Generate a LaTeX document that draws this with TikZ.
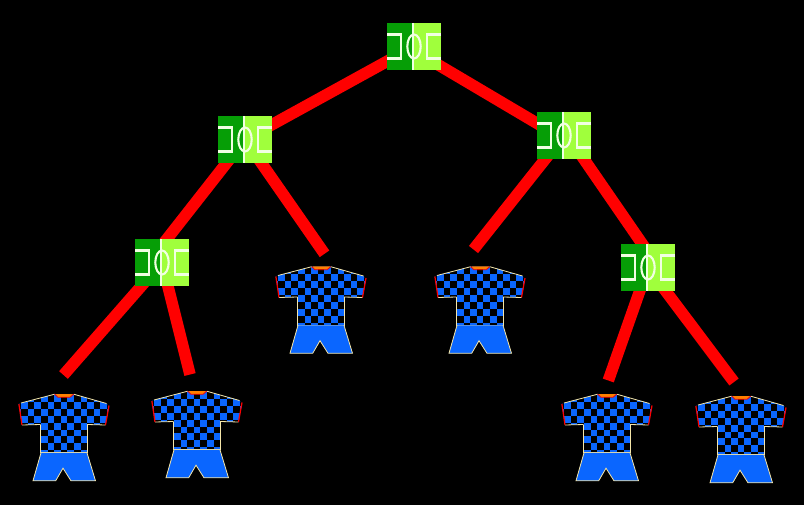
\documentclass[tikz,border=0pt]{standalone}
\definecolor{kitblue}{HTML}{0A66FF}
\definecolor{pitchdark}{HTML}{069E06}
\definecolor{pitchlight}{HTML}{A0FF3C}
\definecolor{trim}{HTML}{F5E6A8}
\tikzset{
  x=1pt,y=-1pt,
  edge/.style={red,line width=11.6pt},
  pitchbox/.style={rectangle,minimum width=54pt,minimum height=47pt,inner sep=0pt,outer sep=0pt,fill=pitchdark},
  kitbox/.style={rectangle,minimum width=90pt,minimum height=87pt,inner sep=0pt,outer sep=0pt},
  pitchline/.style={white!85!pitchlight,line width=2.1pt},
  kitline/.style={trim,line width=.8pt},
}
\newcommand{\pitchart}[1]{%
  \begin{scope}[shift={(#1.center)}]
    \fill[pitchlight] (-1,-23.5) rectangle (27,23.5);
    \draw[pitchline] (-1,-23.5) -- (-1,23.5);
    \draw[pitchline] (0,0) ellipse (6.7pt and 12pt);
    \draw[pitchline] (-27,-12) -- (-13.3,-12) -- (-13.3,12) -- (-27,12);
    \draw[pitchline] (27,-12) -- (13.3,-12) -- (13.3,12) -- (27,12);
  \end{scope}}
\newcommand{\kitart}[1]{%
  \begin{scope}[shift={(#1.north)},shift={(-321,-266.5)}]
    \fill[kitblue] (311.7,266.7) -- (330.7,266.7) -- (363.5,276) -- (366,279.5) -- (362.5,297.5) -- (344,297) -- (344,325) -- (297.5,325) -- (297.5,297) -- (279,297.5) -- (275.7,276.5) -- (278,275.5) -- cycle;
    \begin{scope}
      \clip (311.7,266.7) -- (330.7,266.7) -- (363.5,276) -- (366,279.5) -- (362.5,297.5) -- (344,297) -- (344,325) -- (297.5,325) -- (297.5,297) -- (279,297.5) -- (275.7,276.5) -- (278,275.5) -- cycle;
      \foreach \i in {-5,...,3}{\foreach \j in {-4,...,10}{%
        \pgfmathtruncatemacro{\ck}{mod(\i+\j+100,2)}%
        \ifnum\ck=0 \fill[black] (298+\j*6.6,302+\i*6.9) rectangle +(6.6,6.9); \fi
      }}
    \end{scope}
    \draw[kitline] (311.7,266.7) -- (278,275.5);
    \draw[kitline] (330.7,266.7) -- (363.5,276);
    \draw[kitline] (297.5,297) -- (297.5,325) -- (344,325) -- (344,297);
    \draw[kitline] (279,297.5) -- (297.5,297);
    \draw[kitline] (362.5,297.5) -- (344,297);
    \draw[red,line width=1.2pt] (275.9,276.5) -- (279,297.5);
    \draw[red,line width=1.2pt] (366,278) -- (362.5,297.5);
    \fill[orange] (312.5,266.5) -- (330,266.5) -- (327,269.5) -- (315,269.5) -- cycle;
    \draw[red,line width=.8pt] (311.7,266.7) -- (315,269.8) -- (327,269.8) -- (330.7,266.7);
    \fill[kitblue] (298,325.3) -- (344,325.3) -- (352.5,353.3) -- (328,353.3) -- (320,340.7) -- (312.7,353.3) -- (290,353.3) -- cycle;
    \draw[kitline] (298,325.3) -- (290,353.3) -- (312.7,353.3) -- (320,340.7) -- (328,353.3) -- (352.5,353.3) -- (344,325.3);
  \end{scope}}
\begin{document}
\begin{tikzpicture}
\useasboundingbox (0,0) rectangle (804,505);
\fill[black] (0,0) rectangle (804,505);
\node[pitchbox] (root) at (414,46.5) {};
\node[pitchbox] (l) at (245,139.5) {};
\node[pitchbox] (r) at (564,135.5) {};
\node[pitchbox] (ll) at (162,262.5) {};
\node[pitchbox] (rr) at (648,267.5) {};
\node[kitbox] (lr) at (321,310) {};
\node[kitbox] (rl) at (480,310) {};
\node[kitbox] (lll) at (64,437.5) {};
\node[kitbox] (llr) at (197,434.5) {};
\node[kitbox] (rrl) at (607,437.5) {};
\node[kitbox] (rrr) at (741,439.5) {};
\coordinate (elr) at (324.5,253.8);
\coordinate (erl) at (473.5,249.5);
\coordinate (elll) at (63.5,375);
\coordinate (ellr) at (190,374.5);
\coordinate (errl) at (608.3,380.5);
\coordinate (errr) at (734,382);
\coordinate (rootr) at (414,50.5);
\coordinate (rin) at (564,139.3);
\coordinate (llin) at (148.5,262.5);
\coordinate (rout) at (567.6,135.5);
\coordinate (rrin) at (658.5,267.5);
\draw[edge] (root.center) -- (l.center);
\draw[edge] (rootr) -- (rin);
\draw[edge] (l.center) -- (llin);
\draw[edge] (l.center) -- (elr);
\draw[edge] (r.center) -- (erl);
\draw[edge] (rout) -- (rrin);
\draw[edge] (ll.center) -- (elll);
\draw[edge] (ll.center) -- (ellr);
\draw[edge] (rr.center) -- (errl);
\draw[edge] (rr.center) -- (errr);
\foreach \n in {root,l,r,ll,rr}{\node[pitchbox] at (\n) {}; \pitchart{\n}}
\foreach \n in {lr,rl,lll,llr,rrl,rrr}{\kitart{\n}}
\end{tikzpicture}
\end{document}
